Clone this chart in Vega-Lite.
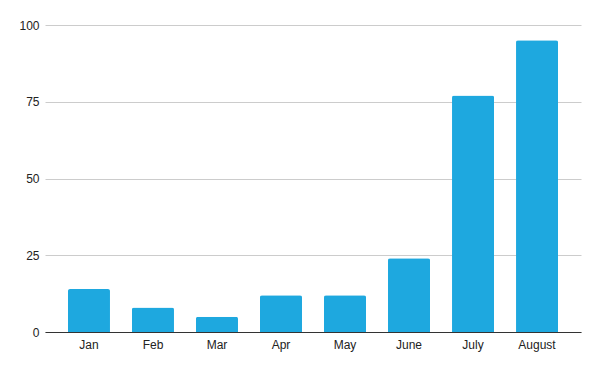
{
  "$schema": "https://vega.github.io/schema/vega-lite/v6.json",
  "width": 536,
  "height": 307,
  "autosize": "none",
  "padding": {"left": 45, "top": 25, "right": 19, "bottom": 39},
  "background": "white",
  "config": {"view": {"stroke": null}, "font": "Liberation Sans"},
  "data": {
    "values": [
      {"month": "Jan", "value": 14},
      {"month": "Feb", "value": 8},
      {"month": "Mar", "value": 5},
      {"month": "Apr", "value": 12},
      {"month": "May", "value": 12},
      {"month": "June", "value": 24},
      {"month": "July", "value": 77},
      {"month": "August", "value": 95}
    ]
  },
  "mark": {"type": "bar", "color": "#1ea8df", "cornerRadiusTopLeft": 2, "cornerRadiusTopRight": 2},
  "encoding": {
    "x": {
      "field": "month",
      "type": "nominal",
      "sort": null,
      "scale": {"paddingInner": 0.34375, "paddingOuter": 0.359},
      "axis": {
        "title": null,
        "labelAngle": 0,
        "ticks": false,
        "tickSize": 0,
        "labelPadding": 7,
        "labelFontSize": 12,
        "labelColor": "#222222",
        "domainColor": "#333333",
        "domainWidth": 1
      }
    },
    "y": {
      "field": "value",
      "type": "quantitative",
      "scale": {"domain": [0, 100], "nice": false},
      "axis": {
        "title": null,
        "values": [0, 25, 50, 75, 100],
        "ticks": false,
        "tickSize": 0,
        "labelPadding": 6,
        "labelFontSize": 12,
        "labelColor": "#222222",
        "domain": false,
        "gridColor": "#cccccc",
        "gridWidth": 1
      }
    }
  }
}
